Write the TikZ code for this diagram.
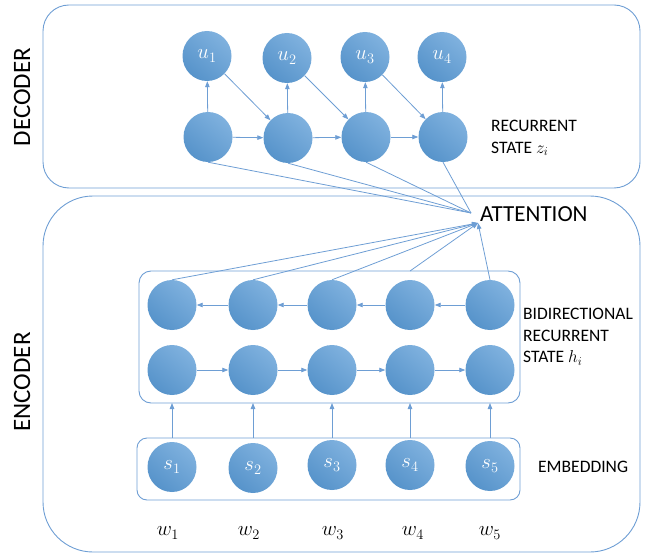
\documentclass[tikz,border=0pt]{standalone}
\usepackage{fontspec}
\setmainfont{Carlito}
\usetikzlibrary{shapes.geometric, arrows.meta, positioning, calc}
\definecolor{cellblue}{HTML}{5B9BD5}
\definecolor{linkblue}{HTML}{6E9ED4}

\tikzset{
  cell/.style={ellipse, top color=cellblue!78!white, bottom color=cellblue!95!black,
    shading angle=-40, minimum width=49pt, minimum height=50pt,
    inner sep=0pt, text=white, font=\fontsize{20}{22}\selectfont},
  frame/.style={draw=linkblue, line width=0.9pt},
  link/.style={draw=linkblue, line width=0.8pt, -{Triangle[length=6pt,width=4.5pt]}},
  attn/.style={draw=linkblue, line width=0.8pt},
  note/.style={font=\fontsize{17.5}{21.5}\selectfont, align=left, anchor=west, inner sep=0pt},
  title/.style={rotate=90, font=\fontsize{25}{28}\selectfont},
}

\begin{document}
\begin{tikzpicture}[x=1pt, y=-1pt]
  \useasboundingbox (0,0) rectangle (647,556);

  % Outer frames
  \draw[frame, rounded corners=26pt] (43,5) rectangle (640,188);
  \draw[frame, rounded corners=50pt] (43,196) rectangle (640,552);
  \draw[frame, rounded corners=12pt] (139,271) rectangle (520,403);
  \draw[frame, rounded corners=10pt] (137,438) rectangle (520,500);
  \coordinate (bidirtop) at (0,271);
  \coordinate (bidirbot) at (0,403);
  \coordinate (embtop) at (0,438);

  \node[title] (dectitle) at (22,97) {DECODER};
  \node[title] (enctitle) at (22,382) {ENCODER};

  % Decoder
  \foreach \i/\x/\yu/\yz in {1/207/56/137, 2/287/58/138, 3/365/57/137, 4/442/57/137} {
    \node[cell] (u\i) at (\x,\yu) {$u_{\i}$};
    \node[cell] (z\i) at (\x+1,\yz) {};
    \draw[link] (z\i) -- (u\i);
  }
  \foreach \i/\j in {1/2, 2/3, 3/4} {
    \draw[link] (z\i) -- (z\j);
    \draw[link] (u\i) -- (z\j);
  }
  \node[note] (zlabel) at (491,138) {RECURRENT\\STATE $z_i$};

  % Attention
  \node[font=\fontsize{23}{26}\selectfont, anchor=west, inner sep=0pt] (attention) at (480,214) {ATTENTION};
  \coordinate (attdec) at (471,213);
  \coordinate (attenc) at (478,223);
  \foreach \i in {1,...,4}
    \draw[attn] (z\i.south) -- (attdec);

  % Encoder
  \foreach \i/\x/\ys in {1/172/467, 2/253/468, 3/332/465, 4/410/465, 5/490/466} {
    \node[cell] (hb\i) at (\x,305) {};
    \node[cell] (hf\i) at (\x,370) {};
    \node[cell] (s\i) at (\x,\ys) {$s_{\i}$};
    \draw[link] (s\i |- embtop) -- (s\i |- bidirbot);
  }
  \foreach \i/\j in {1/2, 2/3, 3/4, 4/5} {
    \draw[link] (hf\i) -- (hf\j);
    \draw[link] (hb\j) -- (hb\i);
  }
  \foreach \i in {1,2,3,5}
    \draw[link] (hb\i.north) -- (attenc);
  \draw[link] (hb4 |- bidirtop) -- (attenc);

  \node[note] (hlabel) at (523,337) {BIDIRECTIONAL\\RECURRENT\\STATE $h_i$};
  \node[note] (slabel) at (538,467) {EMBEDDING};

  \foreach \i/\x in {1/168, 2/249, 3/333, 4/413, 5/490}
    \node[font=\fontsize{21}{24}\selectfont] (w\i) at (\x,533) {$w_{\i}$};
\end{tikzpicture}
\end{document}
